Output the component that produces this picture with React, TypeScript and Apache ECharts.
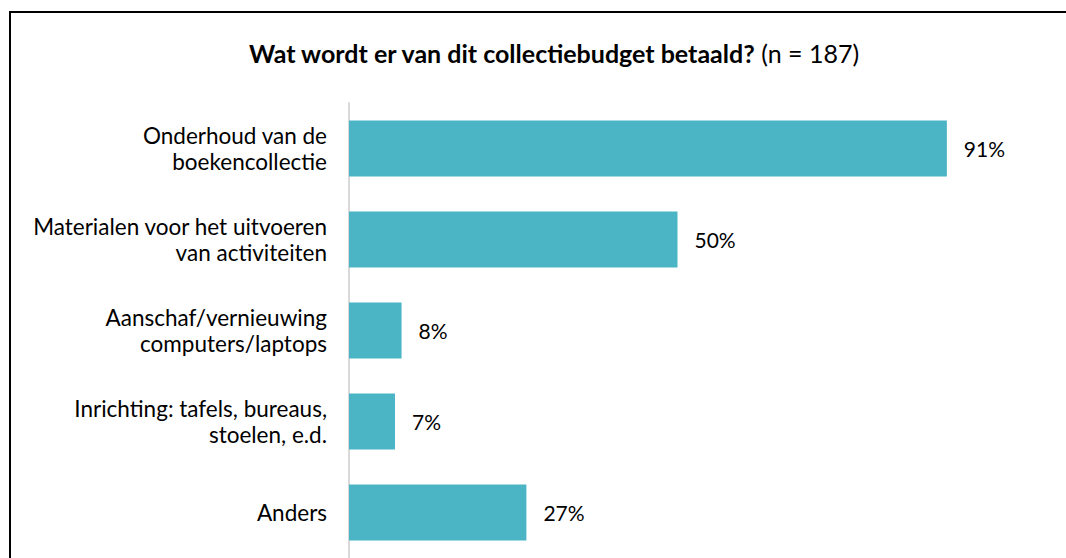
import React, { useEffect, useRef } from "react";
import * as echarts from "echarts";

const categories = [
  "Onderhoud van de\nboekencollectie",
  "Materialen voor het uitvoeren\nvan activiteiten",
  "Aanschaf/vernieuwing\ncomputers/laptops",
  "Inrichting: tafels, bureaus,\nstoelen, e.d.",
  "Anders",
];
const values = [91, 50, 8, 7, 27];
const titleBold = "Wat wordt er van dit collectiebudget betaald?";
const titleRegular = "(n = 187)";

const FONT = "Lato, 'Noto Sans', sans-serif";

export default function App() {
  const ref = useRef<HTMLDivElement>(null);
  useEffect(() => {
    if (!ref.current) return;
    const chart = echarts.init(ref.current, undefined, { renderer: "svg" });
    chart.setOption({
      animation: false,
      backgroundColor: "#ffffff",
      title: {
        text: `{b|${titleBold}} {r|${titleRegular}}`,
        left: 244,
        top: 35,
        textStyle: {
          rich: {
            b: { fontFamily: FONT, fontSize: 25, fontWeight: "bold", color: "#000" },
            r: { fontFamily: FONT, fontSize: 25, fontWeight: "normal", color: "#000" },
          },
        },
      },
      graphic: [
        {
          type: "rect",
          shape: { x: 10, y: 12, width: 1200, height: 700 },
          style: { fill: "none", stroke: "#000", lineWidth: 2 },
          silent: true,
        },
      ],
      grid: { left: 349, right: 60, top: 103, bottom: 0, containLabel: false },
      xAxis: {
        type: "value",
        min: 0,
        max: 100,
        show: false,
      },
      yAxis: {
        type: "category",
        data: categories,
        inverse: true,
        axisLine: { show: true, lineStyle: { color: "#d9d9d9", width: 2 } },
        axisTick: { show: false },
        splitLine: { show: false },
        axisLabel: {
          fontFamily: FONT,
          fontSize: 22.5,
          color: "#000",
          lineHeight: 26,
          align: "right",
          margin: 22,
        },
      },
      series: [
        {
          type: "bar",
          data: values,
          barWidth: 56,
          itemStyle: { color: "#4BB5C5" },
          label: {
            show: true,
            position: "right",
            distance: 17,
            formatter: "{c}%",
            fontFamily: FONT,
            fontSize: 21,
            color: "#000",
          },
        },
      ],
    });
    return () => chart.dispose();
  }, []);
  return (
    <div
      ref={ref}
      style={{ position: "fixed", left: 0, top: 0, width: 1066, height: 558 }}
    />
  );
}
